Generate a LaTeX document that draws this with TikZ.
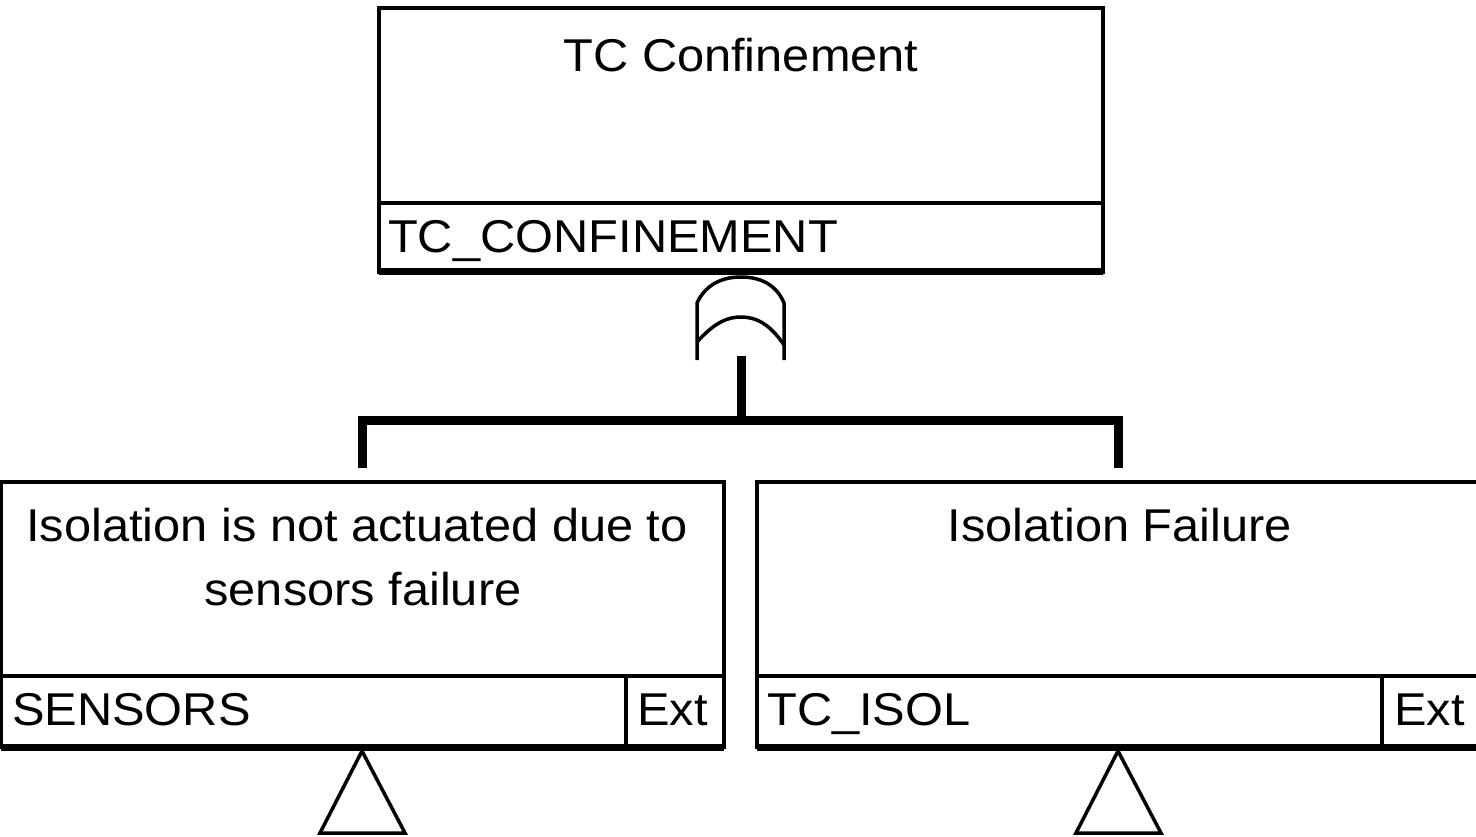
\documentclass[tikz,border=0pt]{standalone}
\usepackage{fontspec}
\setmainfont[FakeStretch=1.06]{Liberation Sans}
\begin{document}
\begin{tikzpicture}[x=1pt,y=-1pt,
  frame/.style={draw, line width=4pt, inner sep=0pt, outer sep=0pt, anchor=north west},
  lbl/.style={font=\fontsize{46}{55}\selectfont, inner sep=0pt},
  sepline/.style={line width=3.5pt},
  baseline/.style={line width=7pt},
  conn/.style={line width=9pt, line join=miter},
  gateline/.style={line width=3.5pt},
  tri/.style={draw, line width=3.5pt, line join=miter}]
\useasboundingbox (0,0) rectangle (1476,837);
\clip (0,0) rectangle (1476,837);
\fill[white] (0,0) rectangle (1476,837);

% top event
\node[frame, minimum width=724pt, minimum height=264pt] (top) at (379,8) {};
\draw[sepline] (379,203) -- (1103,203);
\draw[baseline] (top.south west) -- (top.south east);
\node[lbl, anchor=base] (toptext) at (741,72) {TC Confinement};
\node[lbl, anchor=base west] (topid) at (388,253) {TC\_CONFINEMENT};

% OR gate
\draw[gateline] (697,360) -- (697,303) .. controls (705,286) and (720,277) .. (741,277)
  .. controls (762,277) and (777,286) .. (784,303) -- (784,360);
\draw[gateline] (697,342) .. controls (715,322) and (728,317) .. (741,317)
  .. controls (756,317) and (770,324) .. (784,345);

% left event
\node[frame, minimum width=723pt, minimum height=265pt] (sens) at (1,482) {};
\draw[sepline] (1,676) -- (724,676);
\draw[sepline] (626,676) -- (626,747);
\draw[baseline] (sens.south west) -- (sens.south east);
\node[lbl, anchor=base] (senstext1) at (357,541) {Isolation is not actuated due to};
\node[lbl, anchor=base] (senstext2) at (363,605) {sensors failure};
\node[lbl, anchor=base west] (sensid) at (12,725) {SENSORS};
\node[lbl, anchor=base west] (sensext) at (637,725) {Ext};

% right event
\node[frame, minimum width=730pt, minimum height=265pt] (isol) at (757,482) {};
\draw[sepline] (757,676) -- (1487,676);
\draw[sepline] (1382,676) -- (1382,747);
\draw[baseline] (isol.south west) -- (isol.south east);
\node[lbl, anchor=base] (isoltext) at (1120,541) {Isolation Failure};
\node[lbl, anchor=base west] (isolid) at (767,725) {TC\_ISOL};
\node[lbl, anchor=base west] (isolext) at (1394,725) {Ext};

% connectors
\coordinate (gbot) at (741,356);
\coordinate (gbar) at (741,420);
\coordinate (ls) at (362,468);
\coordinate (rs) at (1118,468);
\draw[conn] (gbot) -- (gbar);
\draw[conn] (ls) -- (ls |- gbar) -- (rs |- gbar) -- (rs);

% transfer triangles
\draw[tri] (362,751) -- (320,833) -- (405,833) -- cycle;
\draw[tri] (1118,751) -- (1076,833) -- (1161,833) -- cycle;
\end{tikzpicture}
\end{document}
